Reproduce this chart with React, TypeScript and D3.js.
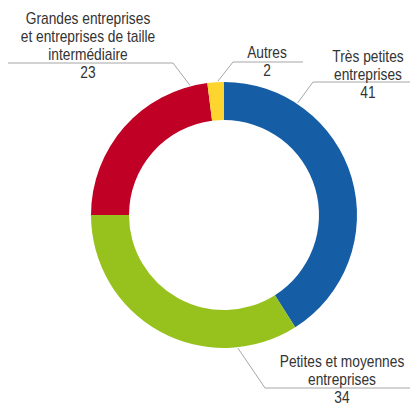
import React from 'react';
import * as d3 from 'd3';

// Répartition par taille d'entreprise (en %)
const categories = [
  'Très petites entreprises',
  'Petites et moyennes entreprises',
  'Grandes entreprises et entreprises de taille intermédiaire',
  'Autres',
];
const values = [41, 34, 23, 2];
const colors = ['#155ea6', '#97c21e', '#c10026', '#fed52e'];

// label text lines (last line is the value)
const labelLines = [
  ['Très petites', 'entreprises'],
  ['Petites et moyennes', 'entreprises'],
  ['Grandes entreprises', 'et entreprises de taille', 'intermédiaire'],
  ['Autres'],
];

// leader layout: angle (deg, clockwise from top) where the line touches the ring,
// elbow point, end of the horizontal run, label centre x, first baseline
const leaders = [
  { angle: 33.3, elbow: [313, 82], endX: 410, cx: 368, y0: 62 },
  { angle: 174, elbow: [265, 388], endX: 410, cx: 342, y0: 367 },
  { angle: 345.3, elbow: [173, 63], endX: 8, cx: 88, y0: 24.5 },
  { angle: 357.4, elbow: [233, 62], endX: 303, cx: 267, y0: 58.5 },
];

const W = 410;
const H = 405;
const CX = 224;
const CY = 215;
const R_OUT = 133;
const R_IN = 95;
const LINE_H = 18;
// the source uses a condensed face; squeeze a regular one to match
const SQUEEZE = 0.86;

export default function App() {
  const pie = d3
    .pie<number>()
    .sort(null)
    .value((d) => d);
  const arcs = pie(values);
  const arc = d3.arc<d3.PieArcDatum<number>>().innerRadius(R_IN).outerRadius(R_OUT);

  const font = "'Liberation Sans', Arial, sans-serif";

  return (
    <svg
      width={W}
      height={H}
      style={{ position: 'absolute', left: 0, top: 0, background: '#fff' }}
    >
      <g transform={`translate(${CX},${CY})`}>
        {arcs.map((a, i) => (
          <path key={categories[i]} d={arc(a) ?? ''} fill={colors[i]} />
        ))}
      </g>
      {leaders.map((l, i) => {
        const rad = (l.angle * Math.PI) / 180;
        const px = CX + Math.sin(rad) * (R_OUT + 1);
        const py = CY - Math.cos(rad) * (R_OUT + 1);
        const pts: [number, number][] = [
          [px, py],
          [l.elbow[0], l.elbow[1]],
          [l.endX, l.elbow[1]],
        ];
        const lines = [...labelLines[i], String(values[i])];
        return (
          <g key={categories[i]}>
            <path
              d={d3.line()(pts) ?? ''}
              fill="none"
              stroke="#a6a6a6"
              strokeWidth={1}
            />
            <g transform={`translate(${l.cx},0) scale(${SQUEEZE},1)`}>
              <text
                textAnchor="middle"
                fontFamily={font}
                fontSize={16}
                fill="#333"
              >
                {lines.map((t, j) => (
                  <tspan key={j} x={0} y={l.y0 + j * LINE_H}>
                    {t}
                  </tspan>
                ))}
              </text>
            </g>
          </g>
        );
      })}
    </svg>
  );
}
